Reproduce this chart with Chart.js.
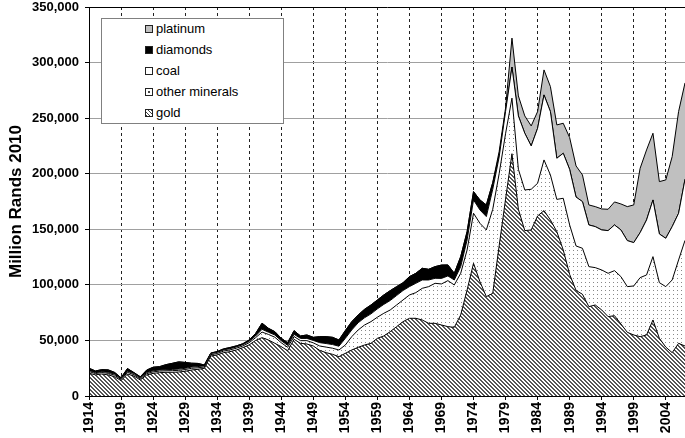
<!DOCTYPE html>
<html>
<head>
<meta charset="utf-8">
<script src="https://cdn.jsdelivr.net/npm/chart.js@4.4.0/dist/chart.umd.min.js"></script>
<style>
  body { margin: 0; background: #fff; }
  #wrap { position: relative; width: 685px; height: 438px; }
  #legend {
    position: absolute; left: 101px; top: 18px; width: 181px; height: 104px;
    border: 1px solid #808080; background: #fff;
    font-family: "Liberation Sans", Arial, sans-serif; font-size: 13px; color: #000;
  }
  .item { position: absolute; left: 43px; height: 16px; line-height: 16px; white-space: nowrap; }
  .box {
    display: inline-block; position: relative; width: 6px; height: 6px;
    border: 1px solid #222; margin-right: 3px; vertical-align: 0px; background: #fff;
  }
  .dot::after { content: ''; position: absolute; left: 2px; top: 2px; width: 2px; height: 2px; background: #444; }
</style>
</head>
<body>
<div id="wrap">
  <canvas id="chart" width="685" height="438"></canvas>
  <div id="legend">
    <div class="item" style="top:2px"><span class="box" style="background:#c0c0c0"></span>platinum</div>
    <div class="item" style="top:23px"><span class="box" style="background:#000"></span>diamonds</div>
    <div class="item" style="top:44px"><span class="box"></span>coal</div>
    <div class="item" style="top:65px"><span class="box dot"></span>other minerals</div>
    <div class="item" style="top:86px"><span class="box" style="background:repeating-linear-gradient(45deg,#444 0 1px,#fff 1px 2.5px)"></span>gold</div>
  </div>
</div>
<script>
(function () {
    'use strict'

    // years 1914..2007
    const years = [];
    for (let y = 1914; y <= 2007; y++) years.push(String(y));

    // million rands (2010), one value per year
    const gold = [
        20500, 19000, 19800, 19000, 17400, 13800, 19800, 18000, 14400, 18900,
        20400, 21000, 21300, 21300, 21600, 22200, 23400, 24000, 24900, 36000,
        36900, 39000, 39900, 41400, 43500, 46000, 50000, 52500, 50400, 47400,
        44400, 40800, 51000, 47400, 46800, 45000, 41000, 39000, 37500, 35400,
        38400, 41400, 43800, 45900, 47400, 51900, 54000, 57900, 62400, 66900,
        69900, 69900, 68400, 65400, 65400, 63900, 62400, 61800, 72900, 95400,
        119400, 102900, 89400, 92400, 135000, 177000, 218000, 168000, 148800, 149400,
        162000, 166800, 158400, 147900, 131400, 109400, 95000, 91500, 80400, 81900,
        77400, 71400, 72300, 64800, 57300, 54900, 53400, 54900, 68400, 51900,
        44000, 39000, 47400, 45000];
    const otherMinerals = [
        1500, 1200, 1300, 1400, 1300, 1000, 1500, 1200, 1000, 1200,
        1300, 1400, 1400, 1500, 1500, 1600, 1500, 1400, 1200, 1200,
        1300, 1400, 1600, 1600, 1500, 2000, 2500, 5000, 5000, 5500,
        3500, 3000, 2500, 2400, 3000, 2800, 4000, 5000, 5500, 6000,
        7500, 12000, 15600, 18000, 19500, 19000, 20400, 19500, 19500, 19500,
        21000, 23100, 28500, 33000, 36000, 36900, 41400, 38100, 37500, 36000,
        45000, 52500, 60000, 75600, 65000, 59000, 50000, 36000, 36600, 36600,
        29400, 45600, 40500, 29000, 46500, 44500, 40000, 41400, 36000, 33600,
        36000, 39000, 40500, 42600, 41100, 44100, 53100, 54000, 57000, 50100,
        54400, 65400, 75000, 95000];
    const coal = [
        1000, 800, 800, 900, 900, 800, 1000, 1000, 900, 1000,
        1000, 1000, 1000, 1100, 1100, 1100, 1100, 1100, 1000, 1000,
        1000, 1000, 1100, 1100, 1200, 1200, 1500, 2500, 2000, 2000,
        1800, 1800, 2000, 2000, 2000, 2200, 3000, 3200, 3300, 3400,
        6000, 6000, 6500, 6500, 7000, 7500, 8000, 8500, 8500, 8500,
        7500, 8400, 7500, 6000, 4500, 5000, 4200, 4500, 6000, 9000,
        12000, 12000, 12000, 18000, 15000, 20000, 28000, 48000, 51000, 39000,
        49500, 58500, 57000, 37000, 40500, 50000, 44000, 42000, 37500, 36900,
        36000, 38400, 41100, 42000, 41400, 39000, 40500, 49500, 51000, 43800,
        43500, 48000, 42000, 55000];
    const diamonds = [
        2000, 1500, 1800, 2200, 1600, 800, 2400, 900, 1000, 2200,
        3200, 3000, 4500, 5500, 6500, 5300, 3500, 2800, 800, 400,
        800, 1000, 1000, 1000, 800, 1200, 2300, 5500, 3500, 3000,
        2200, 2400, 3300, 2200, 3100, 2800, 5400, 6200, 6500, 5600,
        7000, 7500, 7000, 7600, 8000, 8000, 8500, 8900, 8000, 7000,
        9000, 9000, 10500, 9600, 10500, 12000, 9900, 6000, 9000, 7500,
        7500, 9000, 10500, 6000, 2000, 0, 0, 0, 0, 0,
        0, 0, 0, 0, 0, 0, 0, 0, 0, 0,
        0, 0, 0, 0, 0, 0, 0, 0, 0, 0,
        0, 0, 0, 0];
    const platinum = [
        0, 0, 0, 0, 0, 0, 0, 0, 0, 0,
        0, 0, 0, 0, 0, 0, 0, 0, 0, 0,
        0, 0, 0, 0, 0, 0, 0, 0, 0, 0,
        0, 0, 0, 0, 0, 0, 0, 0, 0, 0,
        0, 0, 0, 0, 0, 0, 0, 0, 0, 0,
        0, 0, 0, 0, 0, 0, 0, 0, 0, 0,
        0, 0, 0, 0, 3000, 3000, 26000, 18000, 15600, 18000,
        15000, 22500, 22500, 30000, 27000, 28600, 28000, 24000, 18000, 18000,
        18900, 19200, 20700, 23400, 30600, 33900, 57900, 63000, 60000, 47100,
        52500, 63000, 91500, 86700];

    const yTicks = [0, 50000, 100000, 150000, 200000, 250000, 300000, 350000];

    // fill patterns
    function hatch() {
        let c = document.createElement('canvas');
        c.width = 4; c.height = 4;
        let g = c.getContext('2d');
        g.fillStyle = '#fff'; g.fillRect(0, 0, 4, 4);
        g.fillStyle = '#555';
        for (let i = 0; i < 4; i++) {
            g.fillRect(i, i, 1, 1);
            g.fillRect((i + 1) % 4, i, 1, 1);
        }
        return g.createPattern(c, 'repeat');
    }
    function dots() {
        let c = document.createElement('canvas');
        c.width = 4; c.height = 4;
        let g = c.getContext('2d');
        g.fillStyle = '#fff'; g.fillRect(0, 0, 4, 4);
        g.fillStyle = '#888';
        g.fillRect(1, 2, 1, 1);
        return g.createPattern(c, 'repeat');
    }

    const font = { family: "'Liberation Sans', Arial, sans-serif", size: 13, weight: 'bold' };

    function ds(label, data, bg, fill) {
        return { label: label, data: data, backgroundColor: bg, borderColor: '#000',
                 borderWidth: 1, fill: fill, pointRadius: 0, tension: 0 };
    }

    new Chart(document.getElementById('chart'), {
        type: 'line',
        data: {
            labels: years,
            datasets: [
                ds('gold', gold, hatch(), 'origin'),
                ds('other minerals', otherMinerals, dots(), '-1'),
                ds('coal', coal, '#fff', '-1'),
                ds('diamonds', diamonds, '#000', '-1'),
                ds('platinum', platinum, '#c0c0c0', '-1')
            ]
        },
        options: {
            responsive: false,
            animation: false,
            events: [],
            plugins: {
                legend: { display: false },
                tooltip: { enabled: false }
            },
            scales: {
                x: {
                    grid: { color: '#222', tickColor: '#000', tickLength: 4 },
                    border: { color: '#000', dash: [3, 3], z: 1 },
                    ticks: {
                        autoSkip: false, maxRotation: 90, minRotation: 90, padding: 2,
                        color: '#000', font: { family: font.family, size: 14, weight: 'bold' },
                        callback: (v, i) => (years[i] - 1914) % 5 === 0 ? years[i] : null
                    },
                    afterFit: s => { s.height = 42; s.paddingRight = 0; }
                },
                y: {
                    stacked: true, min: 0, max: 350000,
                    afterBuildTicks: s => { s.ticks = yTicks.map(v => ({ value: v })); },
                    grid: {
                        color: c => c.tick && c.tick.value === 350000 ? '#000' : '#a0a0a0',
                        tickColor: '#000', tickLength: 4
                    },
                    border: { color: '#000', z: 1 },
                    ticks: {
                        padding: 6, color: '#000', font: font,
                        callback: v => v.toLocaleString('en-US')
                    },
                    title: {
                        display: true, text: 'Million Rands 2010', color: '#000',
                        font: { family: "'Liberation Sans', Arial, sans-serif", size: 17, weight: 'bold' },
                        padding: { top: 6, bottom: 0 }
                    },
                    afterFit: s => { s.width = 89; s.paddingTop = 7; s.paddingBottom = 0; }
                }
            }
        }
    });
})()
</script>
</body>
</html>
